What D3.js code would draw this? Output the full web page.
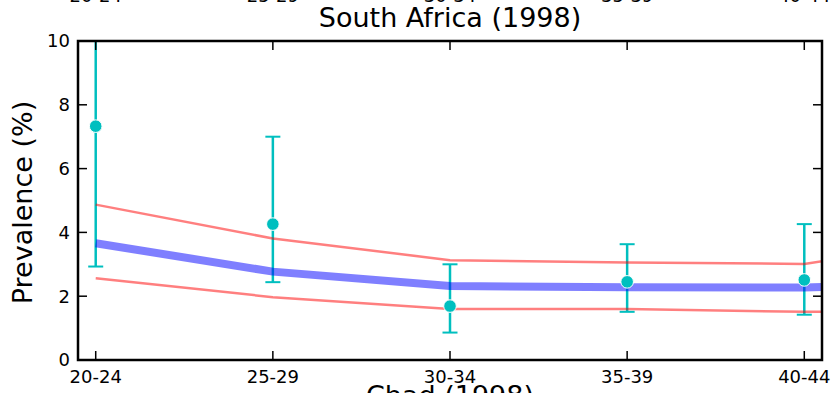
<!DOCTYPE html>
<html><head><meta charset="utf-8">
<script src="https://cdn.jsdelivr.net/npm/d3@7"></script>
<style>body{margin:0;background:#fff;overflow:hidden} text{font-family:"DejaVu Sans",sans-serif;fill:#000}</style>
</head><body><svg id="c" width="835" height="393"></svg>
<script>
const categories = ["20-24","25-29","30-34","35-39","40-44"];
const lineCategories = ["20-24","25-29","30-34","35-39","40-44","45-49"];
const observed = [7.33, 4.26, 1.69, 2.45, 2.51];
const observedLow = [2.93, 2.44, 0.86, 1.51, 1.42];
const observedHigh = [10.4, 7.0, 3.0, 3.63, 4.26];
const modelMedian = [3.66, 2.77, 2.32, 2.28, 2.27, 2.45];
const modelUpper = [4.87, 3.81, 3.13, 3.06, 3.01, 3.9];
const modelLower = [2.56, 1.97, 1.60, 1.60, 1.51, 1.55];
const yTicks = [0, 2, 4, 6, 8, 10];
const title = "South Africa (1998)";
const yLabel = "Prevalence (%)";
const nextTitle = "Chad (1998)";

const svg = d3.select("#c");
const L = 78, R = 822, T = 41, B = 360;
const x = d3.scaleLinear().domain([-0.1, categories.length - 0.9]).range([L, R]);
const y = d3.scaleLinear().domain([0, 10]).range([B, T]);

svg.append("defs").append("clipPath").attr("id", "clip")
  .append("rect").attr("x", L).attr("y", T).attr("width", R - L).attr("height", B - T);
const plot = svg.append("g").attr("clip-path", "url(#clip)");

// error bars
const cyan = "#00bfbf";
const eb = plot.append("g");
categories.forEach((c, i) => {
  eb.append("line").attr("x1", x(i)).attr("x2", x(i)).attr("y1", y(observedLow[i])).attr("y2", y(observedHigh[i]))
    .attr("stroke", cyan).attr("stroke-width", 2.5);
  [observedLow[i], observedHigh[i]].forEach(v => {
    eb.append("line").attr("x1", x(i) - 7.5).attr("x2", x(i) + 7.5).attr("y1", y(v)).attr("y2", y(v))
      .attr("stroke", cyan).attr("stroke-width", 2);
  });
});

// model lines
const line = d3.line().x((d, i) => x(i)).y(d => y(d));
[[modelUpper, "#ff0000", 2.5], [modelLower, "#ff0000", 2.5], [modelMedian, "#0000ff", 8]].forEach(([vals, col, w]) => {
  plot.append("path").datum(vals).attr("d", line).attr("fill", "none")
    .attr("stroke", col).attr("stroke-opacity", 0.5).attr("stroke-width", w);
});

// markers
plot.selectAll("circle.m").data(observed).enter().append("circle")
  .attr("cx", (d, i) => x(i)).attr("cy", d => y(d)).attr("r", 6.3)
  .attr("fill", cyan).attr("stroke", "#fff").attr("stroke-width", 1);

// spines
svg.append("rect").attr("x", L).attr("y", T).attr("width", R - L).attr("height", B - T)
  .attr("fill", "none").attr("stroke", "#000").attr("stroke-width", 2.5);

// ticks
const tk = 9;
yTicks.forEach(v => {
  svg.append("line").attr("x1", L).attr("x2", L + tk).attr("y1", y(v)).attr("y2", y(v)).attr("stroke", "#000").attr("stroke-width", 1.5);
  svg.append("line").attr("x1", R).attr("x2", R - tk).attr("y1", y(v)).attr("y2", y(v)).attr("stroke", "#000").attr("stroke-width", 1.5);
  svg.append("text").attr("x", L - 8).attr("y", y(v)).attr("dy", "0.36em").attr("text-anchor", "end")
    .attr("font-size", 18).text(v);
});
categories.forEach((c, i) => {
  svg.append("line").attr("x1", x(i)).attr("x2", x(i)).attr("y1", B).attr("y2", B - tk).attr("stroke", "#000").attr("stroke-width", 1.5);
  svg.append("line").attr("x1", x(i)).attr("x2", x(i)).attr("y1", T).attr("y2", T + tk).attr("stroke", "#000").attr("stroke-width", 1.5);
  svg.append("text").attr("x", x(i)).attr("y", 383).attr("text-anchor", "middle").attr("font-size", 18).text(c);
  // tick labels of the panel above (cut off)
  svg.append("text").attr("x", x(i)).attr("y", 2).attr("text-anchor", "middle").attr("font-size", 18).text(c);
});

// titles
svg.append("text").attr("x", (L + R) / 2).attr("y", 27).attr("text-anchor", "middle").attr("font-size", 27).text(title);
svg.append("text").attr("x", (L + R) / 2).attr("y", 405).attr("text-anchor", "middle").attr("font-size", 27).text(nextTitle);
svg.append("text").attr("transform", `translate(32,${(T + B) / 2 + 2}) rotate(-90)`).attr("text-anchor", "middle")
  .attr("font-size", 27).text(yLabel);
</script></body></html>
